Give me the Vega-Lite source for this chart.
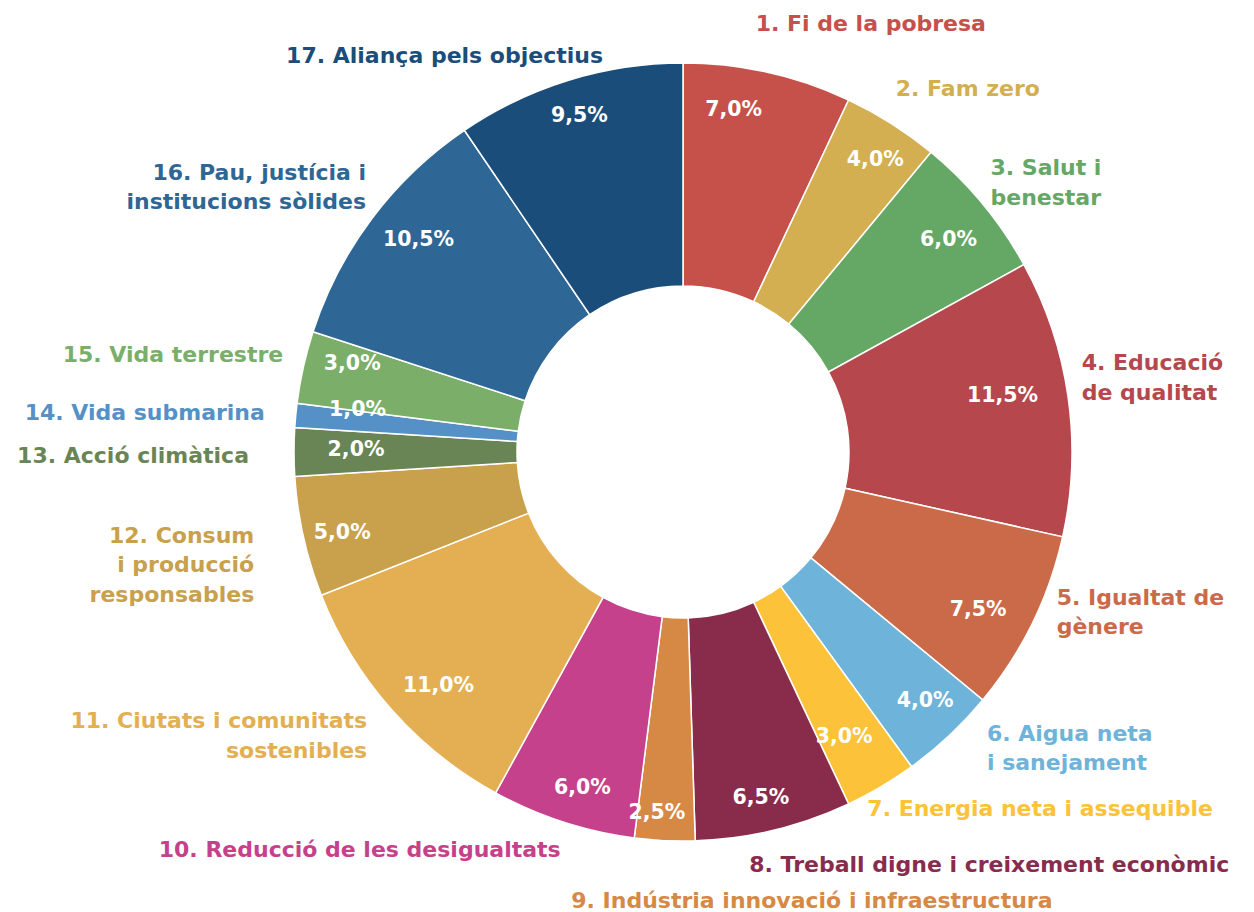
{
  "$schema": "https://vega.github.io/schema/vega-lite/v6.json",
  "width": 1142,
  "height": 904,
  "padding": {"left": 112, "top": 0, "right": 0, "bottom": 8},
  "autosize": {"type": "none"},
  "background": "white",
  "config": {"view": {"stroke": null}, "text": {"font": "DejaVu Sans", "fontWeight": "bold", "fontSize": 22, "baseline": "middle", "lineBreak": "\n", "lineHeight": 29.5, "radius": 425}},
  "data": {
    "values": [
      {"n": 1, "name": "1. Fi de la pobresa", "value": 7.0, "pct": "7,0%"},
      {"n": 2, "name": "2. Fam zero", "value": 4.0, "pct": "4,0%"},
      {"n": 3, "name": "3. Salut i\nbenestar", "value": 6.0, "pct": "6,0%"},
      {"n": 4, "name": "4. Educació\nde qualitat", "value": 11.5, "pct": "11,5%"},
      {"n": 5, "name": "5. Igualtat de\ngènere", "value": 7.5, "pct": "7,5%"},
      {"n": 6, "name": "6. Aigua neta\ni sanejament", "value": 4.0, "pct": "4,0%"},
      {"n": 7, "name": "7. Energia neta i assequible", "value": 3.0, "pct": "3,0%"},
      {"n": 8, "name": "8. Treball digne i creixement econòmic", "value": 6.5, "pct": "6,5%"},
      {"n": 9, "name": "9. Indústria innovació i infraestructura", "value": 2.5, "pct": "2,5%"},
      {"n": 10, "name": "10. Reducció de les desigualtats", "value": 6.0, "pct": "6,0%"},
      {"n": 11, "name": "11. Ciutats i comunitats\nsostenibles", "value": 11.0, "pct": "11,0%"},
      {"n": 12, "name": "12. Consum\ni producció\nresponsables", "value": 5.0, "pct": "5,0%"},
      {"n": 13, "name": "13. Acció climàtica", "value": 2.0, "pct": "2,0%"},
      {"n": 14, "name": "14. Vida submarina", "value": 1.0, "pct": "1,0%"},
      {"n": 15, "name": "15. Vida terrestre", "value": 3.0, "pct": "3,0%"},
      {"n": 16, "name": "16. Pau, justícia i\ninstitucions sòlides", "value": 10.5, "pct": "10,5%"},
      {"n": 17, "name": "17. Aliança pels objectius", "value": 9.5, "pct": "9,5%"}
    ]
  },
  "encoding": {
    "theta": {"field": "value", "type": "quantitative", "stack": true},
    "order": {"field": "n", "type": "quantitative"},
    "color": {
      "field": "n",
      "type": "nominal",
      "legend": null,
      "scale": {
        "domain": [1,2,3,4,5,6,7,8,9,10,11,12,13,14,15,16,17],
        "range": ["#C6504A","#D3AF51","#65A765","#B5474D","#CB6A48","#6EB3D9","#FBC23A","#892C4C","#D68945","#C6418B","#E3AF52","#C9A04C","#6A8555","#5591C7","#7AAE69","#2E6695","#1B4D7B"]
      }
    }
  },
  "layer": [
    {"mark": {"type": "arc", "innerRadius": 166, "outerRadius": 389, "stroke": "#FFFFFF", "strokeWidth": 1.5}},
    {"mark": {"type": "text", "radius": 342, "fontSize": 20.5, "align": "center", "fill": "#FFFFFF", "dx": -24, "dy": -8}, "encoding": {"color": {"value": "#FFFFFF"}, "text": {"condition": {"test": "datum.n == 1", "field": "pct"}, "value": ""}}},
    {"mark": {"type": "text", "radius": 342, "fontSize": 20.5, "align": "center", "fill": "#FFFFFF", "dx": 9, "dy": -3}, "encoding": {"color": {"value": "#FFFFFF"}, "text": {"condition": {"test": "datum.n == 2", "field": "pct"}, "value": ""}}},
    {"mark": {"type": "text", "radius": 342, "fontSize": 20.5, "align": "center", "fill": "#FFFFFF", "dx": 2, "dy": 6}, "encoding": {"color": {"value": "#FFFFFF"}, "text": {"condition": {"test": "datum.n == 3", "field": "pct"}, "value": ""}}},
    {"mark": {"type": "text", "radius": 342, "fontSize": 20.5, "align": "center", "fill": "#FFFFFF", "dx": -19, "dy": -8}, "encoding": {"color": {"value": "#FFFFFF"}, "text": {"condition": {"test": "datum.n == 4", "field": "pct"}, "value": ""}}},
    {"mark": {"type": "text", "radius": 342, "fontSize": 20.5, "align": "center", "fill": "#FFFFFF", "dx": -12, "dy": 8}, "encoding": {"color": {"value": "#FFFFFF"}, "text": {"condition": {"test": "datum.n == 5", "field": "pct"}, "value": ""}}},
    {"mark": {"type": "text", "radius": 342, "fontSize": 20.5, "align": "center", "fill": "#FFFFFF", "dx": 8, "dy": 0}, "encoding": {"color": {"value": "#FFFFFF"}, "text": {"condition": {"test": "datum.n == 6", "field": "pct"}, "value": ""}}},
    {"mark": {"type": "text", "radius": 342, "fontSize": 20.5, "align": "center", "fill": "#FFFFFF", "dx": -13, "dy": -9}, "encoding": {"color": {"value": "#FFFFFF"}, "text": {"condition": {"test": "datum.n == 7", "field": "pct"}, "value": ""}}},
    {"mark": {"type": "text", "radius": 342, "fontSize": 20.5, "align": "center", "fill": "#FFFFFF", "dx": -2, "dy": 13}, "encoding": {"color": {"value": "#FFFFFF"}, "text": {"condition": {"test": "datum.n == 8", "field": "pct"}, "value": ""}}},
    {"mark": {"type": "text", "radius": 342, "fontSize": 20.5, "align": "center", "fill": "#FFFFFF", "dx": -10, "dy": 19}, "encoding": {"color": {"value": "#FFFFFF"}, "text": {"condition": {"test": "datum.n == 9", "field": "pct"}, "value": ""}}},
    {"mark": {"type": "text", "radius": 342, "fontSize": 20.5, "align": "center", "fill": "#FFFFFF", "dx": 5, "dy": 11}, "encoding": {"color": {"value": "#FFFFFF"}, "text": {"condition": {"test": "datum.n == 10", "field": "pct"}, "value": ""}}},
    {"mark": {"type": "text", "radius": 342, "fontSize": 20.5, "align": "center", "fill": "#FFFFFF", "dx": 12, "dy": 8}, "encoding": {"color": {"value": "#FFFFFF"}, "text": {"condition": {"test": "datum.n == 11", "field": "pct"}, "value": ""}}},
    {"mark": {"type": "text", "radius": 342, "fontSize": 20.5, "align": "center", "fill": "#FFFFFF", "dx": -7, "dy": 6}, "encoding": {"color": {"value": "#FFFFFF"}, "text": {"condition": {"test": "datum.n == 12", "field": "pct"}, "value": ""}}},
    {"mark": {"type": "text", "radius": 342, "fontSize": 20.5, "align": "center", "fill": "#FFFFFF", "dx": 15, "dy": -2}, "encoding": {"color": {"value": "#FFFFFF"}, "text": {"condition": {"test": "datum.n == 13", "field": "pct"}, "value": ""}}},
    {"mark": {"type": "text", "radius": 342, "fontSize": 20.5, "align": "center", "fill": "#FFFFFF", "dx": 15, "dy": -10}, "encoding": {"color": {"value": "#FFFFFF"}, "text": {"condition": {"test": "datum.n == 14", "field": "pct"}, "value": ""}}},
    {"mark": {"type": "text", "radius": 342, "fontSize": 20.5, "align": "center", "fill": "#FFFFFF", "dx": 3, "dy": -13}, "encoding": {"color": {"value": "#FFFFFF"}, "text": {"condition": {"test": "datum.n == 15", "field": "pct"}, "value": ""}}},
    {"mark": {"type": "text", "radius": 342, "fontSize": 20.5, "align": "center", "fill": "#FFFFFF", "dx": 9, "dy": -7}, "encoding": {"color": {"value": "#FFFFFF"}, "text": {"condition": {"test": "datum.n == 16", "field": "pct"}, "value": ""}}},
    {"mark": {"type": "text", "radius": 342, "fontSize": 20.5, "align": "center", "fill": "#FFFFFF", "dx": -3, "dy": -9}, "encoding": {"color": {"value": "#FFFFFF"}, "text": {"condition": {"test": "datum.n == 17", "field": "pct"}, "value": ""}}},
    {"mark": {"type": "text", "align": "left", "dx": -20, "dy": -13}, "encoding": {"text": {"condition": {"test": "datum.n == 1", "field": "name"}, "value": ""}}},
    {"mark": {"type": "text", "align": "left", "dx": -15, "dy": -4}, "encoding": {"text": {"condition": {"test": "datum.n == 2", "field": "name"}, "value": ""}}},
    {"mark": {"type": "text", "align": "left", "dx": -20, "dy": -13}, "encoding": {"text": {"condition": {"test": "datum.n == 3", "field": "name"}, "value": ""}}},
    {"mark": {"type": "text", "align": "left", "dx": -22, "dy": -29}, "encoding": {"text": {"condition": {"test": "datum.n == 4", "field": "name"}, "value": ""}}},
    {"mark": {"type": "text", "align": "left", "dx": -8, "dy": -41}, "encoding": {"text": {"condition": {"test": "datum.n == 5", "field": "name"}, "value": ""}}},
    {"mark": {"type": "text", "align": "left", "dx": 13, "dy": -28}, "encoding": {"text": {"condition": {"test": "datum.n == 6", "field": "name"}, "value": ""}}},
    {"mark": {"type": "text", "align": "left", "dx": -32, "dy": -9}, "encoding": {"text": {"condition": {"test": "datum.n == 7", "field": "name"}, "value": ""}}},
    {"mark": {"type": "text", "align": "left", "dx": -33, "dy": 0}, "encoding": {"text": {"condition": {"test": "datum.n == 8", "field": "name"}, "value": ""}}},
    {"mark": {"type": "text", "align": "center", "radius": 448, "dx": 150, "dy": 1}, "encoding": {"text": {"condition": {"test": "datum.n == 9", "field": "name"}, "value": ""}}},
    {"mark": {"type": "text", "align": "right", "dx": 9, "dy": -6}, "encoding": {"text": {"condition": {"test": "datum.n == 10", "field": "name"}, "value": ""}}},
    {"mark": {"type": "text", "align": "right", "dx": 3, "dy": -12}, "encoding": {"text": {"condition": {"test": "datum.n == 11", "field": "name"}, "value": ""}}},
    {"mark": {"type": "text", "align": "right", "dx": -14, "dy": -9}, "encoding": {"text": {"condition": {"test": "datum.n == 12", "field": "name"}, "value": ""}}},
    {"mark": {"type": "text", "align": "right", "dx": -9, "dy": 4}, "encoding": {"text": {"condition": {"test": "datum.n == 13", "field": "name"}, "value": ""}}},
    {"mark": {"type": "text", "align": "right", "dx": 5, "dy": 1}, "encoding": {"text": {"condition": {"test": "datum.n == 14", "field": "name"}, "value": ""}}},
    {"mark": {"type": "text", "align": "right", "dx": 15, "dy": -4}, "encoding": {"text": {"condition": {"test": "datum.n == 15", "field": "name"}, "value": ""}}},
    {"mark": {"type": "text", "align": "right", "dx": 23, "dy": -24}, "encoding": {"text": {"condition": {"test": "datum.n == 16", "field": "name"}, "value": ""}}},
    {"mark": {"type": "text", "align": "right", "dx": 45, "dy": 10}, "encoding": {"text": {"condition": {"test": "datum.n == 17", "field": "name"}, "value": ""}}}
  ]
}
